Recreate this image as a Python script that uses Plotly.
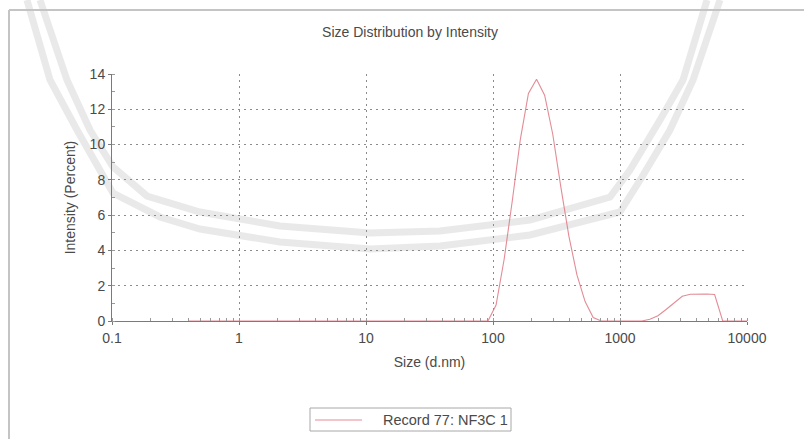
import plotly.graph_objects as go

# Size classes (d.nm) and intensity distribution (%) for Record 77
size_nm = [0.4, 0.4632, 0.5365, 0.6213, 0.7195, 0.8332, 0.9649, 1.117, 1.294, 1.499,
           1.736, 2.01, 2.328, 2.696, 3.122, 3.615, 4.187, 4.849, 5.615, 6.503,
           7.531, 8.721, 10.1, 11.7, 13.54, 15.69, 18.17, 21.04, 24.36, 28.21,
           32.67, 37.84, 43.82, 50.75, 58.77, 68.06, 78.82, 91.28, 105.7, 122.4,
           141.8, 164.2, 190.1, 220.2, 255.0, 295.3, 342.0, 396.1, 458.7, 531.2,
           615.1, 712.4, 825.0, 955.4, 1106, 1281, 1484, 1718, 1990, 2305,
           2669, 3091, 3580, 4145, 4801, 5560, 6439, 7456, 8635, 10000]
intensity_pct = [0, 0, 0, 0, 0, 0, 0, 0, 0, 0,
                 0, 0, 0, 0, 0, 0, 0, 0, 0, 0,
                 0, 0, 0, 0, 0, 0, 0, 0, 0, 0,
                 0, 0, 0, 0, 0, 0, 0, 0, 0.9, 3.5,
                 6.8, 10.3, 12.9, 13.7, 12.8, 10.6, 7.6, 4.8, 2.6, 1.1,
                 0.2, 0, 0, 0, 0, 0, 0, 0.1, 0.3, 0.65,
                 1.0, 1.4, 1.52, 1.53, 1.53, 1.5, 0, 0, 0, 0]
record_name = "Record 77: NF3C 1"

x_ticks = [0.1, 1, 10, 100, 1000, 10000]
x_tick_text = ["0.1", "1", "10", "100", "1000", "10000"]
y_ticks = [0, 2, 4, 6, 8, 10, 12, 14]

W, H = 804, 439
L, R, T, B = 112, 747, 74, 321  # plot area edges in page pixels


def px(x):
    return (x - L) / (R - L)


def py(y):
    return (B - y) / (B - T)


def path_from(points):
    return "M " + " L ".join(f"{px(a):.4f},{py(b):.4f}" for a, b in points)


FONT = "Liberation Sans, Arial, sans-serif"
TXT = "#4a4a4a"
GRID = "#8c8c8c"
LINE_COLOR = "rgba(222,120,132,0.85)"

fig = go.Figure()
fig.add_trace(go.Scatter(
    x=size_nm, y=intensity_pct, mode="lines", name=record_name, showlegend=False,
    line=dict(color=LINE_COLOR, width=1.1),
))

# faint background emblem bands
band_inner = [(40, 0), (67, 80), (90, 130), (113, 167), (147, 196), (200, 212), (280, 226),
              (370, 233), (440, 231), (530, 220), (610, 197), (630, 170), (660, 120),
              (683, 80), (707, 0)]
band_outer = [(27, 0), (50, 80), (77, 130), (113, 193), (160, 217), (200, 229), (280, 242),
              (370, 249), (440, 246), (530, 235), (620, 212), (642, 177), (670, 130),
              (693, 80), (720, 0)]
shapes = []
for pts in (band_inner, band_outer):
    shapes.append(dict(type="path", xref="paper", yref="paper", path=path_from(pts),
                       line=dict(color="rgba(200,200,200,0.4)", width=7), layer="below"))
# page frame
shapes.append(dict(type="line", xref="paper", yref="paper", x0=px(9), x1=px(W), y0=py(10), y1=py(10),
                   line=dict(color="#c4c4c4", width=2)))
shapes.append(dict(type="line", xref="paper", yref="paper", x0=px(9), x1=px(9), y0=py(10), y1=py(H),
                   line=dict(color="#c4c4c4", width=2)))
# legend box with a line sample
shapes.append(dict(type="rect", xref="paper", yref="paper", x0=px(310), x1=px(511), y0=py(408), y1=py(431),
                   line=dict(color="#a8a8a8", width=1), fillcolor="white"))
shapes.append(dict(type="line", xref="paper", yref="paper", x0=px(315), x1=px(362), y0=py(420), y1=py(420),
                   line=dict(color=LINE_COLOR, width=1.1)))

fig.update_layout(
    width=W, height=H,
    margin=dict(l=L, r=W - R, t=T, b=H - B, autoexpand=False),
    paper_bgcolor="white", plot_bgcolor="white",
    font=dict(family=FONT, size=14, color=TXT),
    title=dict(text="Size Distribution by Intensity", x=410 / W, xref="container", xanchor="center",
               y=1 - 32 / H, yref="container", yanchor="middle",
               font=dict(family=FONT, size=14, color=TXT)),
    showlegend=False,
    shapes=shapes,
    annotations=[dict(text=record_name, xref="paper", yref="paper", x=px(381), y=py(420),
                      xanchor="left", yanchor="middle", showarrow=False,
                      font=dict(family=FONT, size=14.5, color=TXT))],
)
fig.update_xaxes(
    type="log", range=[-1, 4], automargin=False,
    tickvals=x_ticks, ticktext=x_tick_text,
    showline=True, linecolor="#7a7a7a", linewidth=1,
    ticks="outside", ticklen=3, tickcolor="#7a7a7a", ticklabelstandoff=1,
    showgrid=True, gridcolor=GRID, gridwidth=1, griddash="2px,4px",
    minor=dict(ticks="inside", ticklen=3, tickcolor="#9a9a9a", dtick="D1", showgrid=False),
    zeroline=False,
    title=dict(text="Size (d.nm)", standoff=12, font=dict(family=FONT, size=14, color=TXT)),
)
fig.update_yaxes(
    range=[0, 14], tickvals=y_ticks, automargin=False,
    showline=True, linecolor="#7a7a7a", linewidth=1,
    ticks="outside", ticklen=3, tickcolor="#7a7a7a",
    showgrid=True, gridcolor=GRID, gridwidth=1, griddash="2px,4px",
    minor=dict(ticks="inside", ticklen=3, tickcolor="#9a9a9a", dtick=1, showgrid=False),
    zeroline=False,
    title=dict(text="Intensity (Percent)", standoff=10, font=dict(family=FONT, size=14, color=TXT)),
)

fig.write_html("out.html")
